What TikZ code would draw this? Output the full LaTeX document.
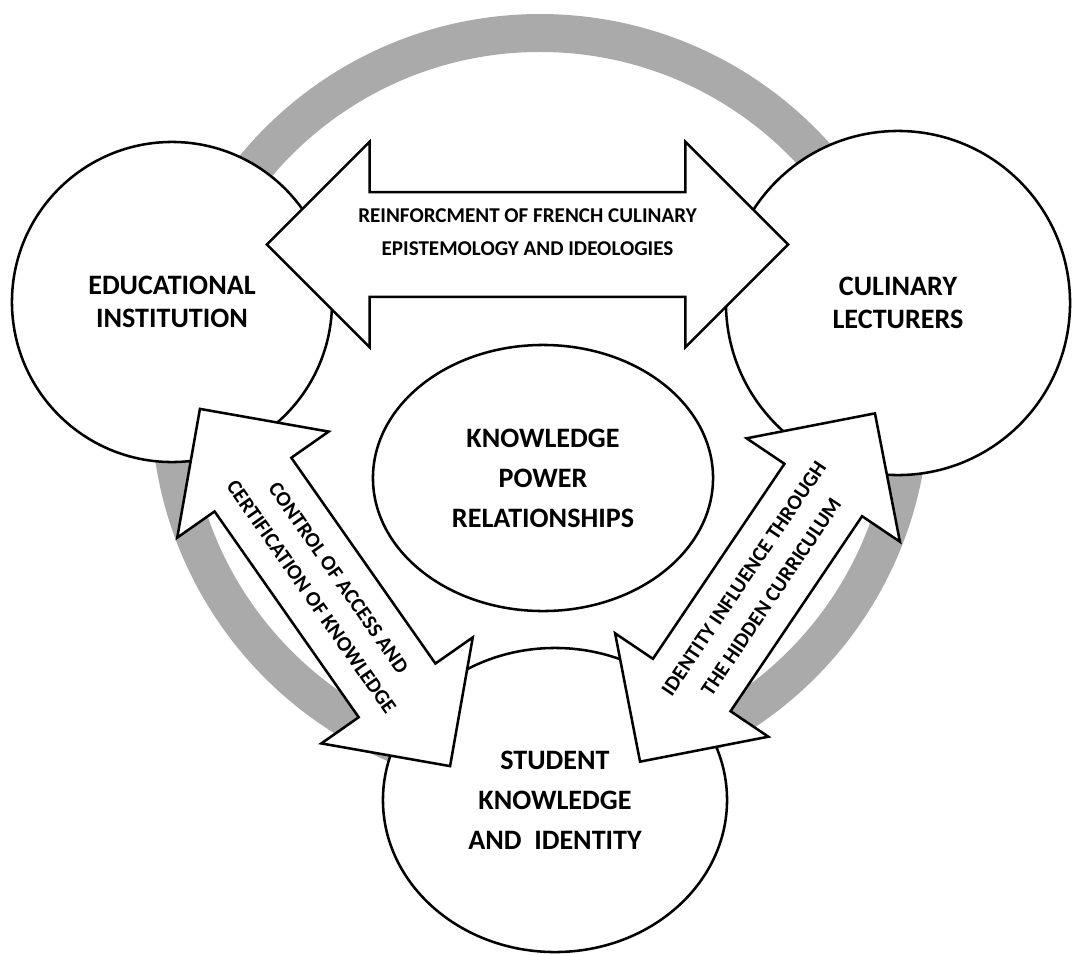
\documentclass[tikz,border=0pt]{standalone}
\usepackage{fontspec}
\setmainfont{Carlito}
\usepackage{tikz}
\usetikzlibrary{shapes.geometric,shapes.arrows}
\definecolor{ringgray}{RGB}{170,170,170}

\begin{document}
\begin{tikzpicture}[x=0.025cm,y=-0.025cm,line width=1.8pt]
    \tikzstyle{party}=[circle,draw=black,fill=white,inner sep=0pt,align=center,font=\fontsize{20}{23}\selectfont\bfseries]
    \tikzstyle{core}=[ellipse,draw=black,fill=white,inner sep=0pt,align=center,font=\fontsize{20}{28.5}\selectfont\bfseries]
    \tikzstyle{flow}=[double arrow,draw=black,fill=white,double arrow tip angle=90,inner xsep=0pt]
    \tikzstyle{annot}=[align=center,font=\fontsize{15}{23.5}\selectfont\bfseries]

    \useasboundingbox (0,0) rectangle (1085,954);

    % grey ring behind the parties
    \draw[ringgray,line width=27pt] (540,403) circle[radius=370];

    \node[core,minimum width=8.5cm,minimum height=6.65cm] (KP) at (543,478) {KNOWLEDGE\\POWER\\RELATIONSHIPS};
    \node[party,minimum size=8cm] (EI) at (172,302) {EDUCATIONAL\\INSTITUTION};
    \node[party,minimum size=8.6cm] (CL) at (898,303) {CULINARY\\LECTURERS};
    \node[core,minimum width=8.6cm,minimum height=7.6cm] (SK) at (555,800) {STUDENT\\KNOWLEDGE\\AND\ \ IDENTITY};

    % Draw the block arrows between the parties
    \node[flow,inner ysep=36.3pt,minimum height=13.03cm,minimum width=5.08cm,double arrow head extend=1.26cm] (EI-CL) at (527.5,244.5) {};
    \node[flow,inner ysep=32.4pt,minimum height=10.9cm,minimum width=4.55cm,double arrow head extend=1.14cm,rotate=-55] (EI-SK) at (325,587.5) {};
    \node[flow,inner ysep=32.4pt,minimum height=10.5cm,minimum width=4.55cm,double arrow head extend=1.14cm,rotate=56] (CL-SK) at (757.5,587.5) {};

    % Annotate the arrows
    \node[annot] at ([yshift=9pt]EI-CL.center) {REINFORCMENT OF FRENCH CULINARY\\EPISTEMOLOGY AND IDEOLOGIES};
    \node[annot,rotate=-55] at (EI-SK.center) {CONTROL OF ACCESS AND\\CERTIFICATION OF KNOWLEDGE};
    \node[annot,rotate=56] at (CL-SK.center) {IDENTITY INFLUENCE THROUGH\\THE HIDDEN CURRICULUM};
\end{tikzpicture}
\end{document}
